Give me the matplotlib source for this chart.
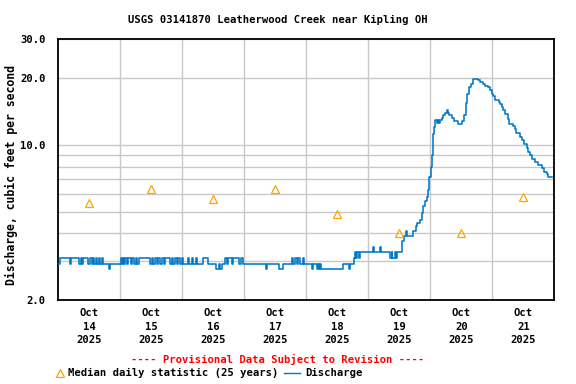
import numpy as np
import pandas as pd
import matplotlib
matplotlib.use("Agg")
import matplotlib.pyplot as plt
from matplotlib.lines import Line2D
from matplotlib.ticker import FixedLocator, NullFormatter, FixedFormatter

plt.rcParams["font.family"] = "DejaVu Sans Mono"
plt.rcParams["font.weight"] = "bold"

START = pd.Timestamp("2025-10-14 00:00")
TITLE = "USGS 03141870 Leatherwood Creek near Kipling OH"

# discharge, step change points: (hours since Oct 14 00:00, cfs)
discharge_steps = [
    (0.0, 2.9), (0.5, 3.08), (4.5, 2.9), (5.0, 3.08), (8.1, 2.9), (8.6, 3.08),
    (9.0, 2.9), (9.5, 3.08), (11.6, 2.9), (12.3, 3.08), (12.9, 2.9), (13.6, 3.08),
    (14.0, 2.9), (14.6, 3.08), (15.1, 2.9), (15.8, 3.08), (16.1, 2.9), (16.8, 3.08),
    (17.4, 2.9), (19.6, 2.75), (20.0, 2.9), (24.3, 3.08), (24.8, 2.9), (25.2, 3.08),
    (25.6, 2.9), (25.9, 3.08), (26.7, 2.9), (27.1, 3.08), (28.0, 2.9), (28.5, 3.08),
    (29.3, 2.9), (30.1, 3.08), (30.6, 2.9), (31.1, 3.08), (35.5, 2.9), (36.3, 3.08),
    (36.8, 2.9), (37.4, 3.08), (38.1, 2.9), (38.7, 3.08), (39.4, 2.9), (40.0, 3.08),
    (40.9, 2.9), (41.4, 3.08), (43.2, 2.9), (43.9, 3.08), (44.5, 2.9), (45.2, 3.08),
    (45.8, 2.9), (46.5, 3.08), (47.1, 2.9), (47.9, 3.08), (48.4, 2.9), (50.1, 3.08),
    (50.5, 2.9), (51.6, 3.08), (52.0, 2.9), (53.2, 3.08), (53.6, 2.9), (56.2, 3.08),
    (58.1, 2.9), (61.1, 2.75), (62.1, 2.9), (62.6, 2.75), (63.2, 2.9), (64.5, 3.08),
    (65.2, 2.9), (65.8, 3.08), (67.1, 2.9), (67.8, 3.08), (70.1, 2.9), (70.7, 3.08),
    (71.6, 2.9), (80.4, 2.75), (80.9, 2.9), (85.6, 2.75), (87.1, 2.9), (90.3, 3.08),
    (91.0, 2.9), (91.6, 3.08), (92.3, 2.9), (92.9, 3.08), (93.6, 2.9), (94.9, 3.08),
    (95.1, 2.9), (98.1, 2.75), (98.7, 2.9), (100.0, 2.75), (100.4, 2.9), (100.9, 2.75),
    (101.3, 2.9), (101.7, 2.75), (110.3, 2.9), (112.4, 2.75), (112.8, 2.9), (114.6, 3.08),
    (115.0, 3.28), (115.2, 3.08), (115.8, 3.28), (116.4, 3.08), (116.8, 3.28), (121.7, 3.46),
    (122.1, 3.28), (124.5, 3.46), (124.9, 3.28), (128.4, 3.08), (129.1, 3.28), (129.3, 3.08),
    (130.3, 3.28), (130.6, 3.08), (131.3, 3.28), (132.9, 3.69), (133.8, 3.9), (134.6, 4.09),
    (134.9, 3.9), (137.45, 4.09), (138.35, 4.3), (139.0, 4.46), (140.03, 4.6), (140.67, 4.94),
    (141.32, 5.3), (141.96, 5.6), (142.61, 5.84), (143.25, 6.3), (143.64, 7.2), (144.16, 7.97),
    (144.54, 9.0), (144.93, 9.8), (145.19, 11.27), (145.58, 12.07), (145.96, 12.94),
    (146.48, 12.58), (146.9, 12.94), (147.3, 12.58), (147.77, 12.94), (148.42, 13.3),
    (149.06, 13.6), (149.83, 14.0), (150.6, 14.4), (151.0, 14.0), (151.25, 13.6),
    (152.29, 13.2), (153.19, 12.8), (154.87, 12.5), (156.42, 12.9), (157.06, 13.6),
    (157.71, 15.4), (158.35, 17.06), (158.87, 18.27), (159.64, 18.9), (160.42, 19.24),
    (160.68, 19.94), (162.6, 19.6), (163.3, 19.24), (164.5, 18.9), (165.2, 18.5),
    (166.2, 18.2), (167.1, 17.66), (167.8, 17.06), (168.4, 16.6), (169.1, 15.9),
    (170.4, 15.6), (171.0, 15.38), (171.7, 14.85), (172.3, 14.35), (172.9, 13.87),
    (174.2, 13.16), (174.5, 12.5), (176.2, 12.16), (176.8, 11.87), (177.1, 11.34),
    (178.75, 10.88), (179.4, 10.51), (180.4, 10.16), (181.3, 9.65), (182.0, 9.31),
    (182.6, 9.0), (183.3, 8.69), (184.6, 8.4), (185.8, 8.11), (187.1, 7.84),
    (188.2, 7.57), (189.1, 7.39), (189.7, 7.19), (191.0, 7.19),
]

# median daily statistic, plotted at noon
median_days = ["2025-10-14", "2025-10-15", "2025-10-16", "2025-10-17",
               "2025-10-18", "2025-10-19", "2025-10-20", "2025-10-21"]
median_vals = [5.5, 6.36, 5.73, 6.36, 4.9, 4.03, 4.03, 5.84]

y_major = [2, 10, 20, 30]
y_major_labels = ["2.0", "10.0", "20.0", "30.0"]
y_minor = [3, 4, 5, 6, 7, 8, 9]

BLUE = "#0078c8"
ORANGE = "#ffa500"
GRID = "#c8c8c8"
FS = 7.6


def main():
    hrs = np.array([h for h, _ in discharge_steps])
    q = np.array([v for _, v in discharge_steps])
    t = START + pd.to_timedelta(hrs, unit="h")
    mt = pd.to_datetime(median_days) + pd.Timedelta(hours=12)

    fig = plt.figure(figsize=(5.76, 3.84), dpi=100)
    ax = fig.add_axes([58.3 / 576, 1 - 300 / 384, 496 / 576, 260.7 / 384])

    ax.plot(t, q, drawstyle="steps-post", color=BLUE, lw=1.15, zorder=3)
    ax.plot(mt, median_vals, ls="none", marker="^", ms=6.2, mfc="none",
            mec=ORANGE, mew=0.9, zorder=4)

    ax.set_yscale("log")
    ax.set_ylim(2, 30)
    ax.yaxis.set_major_locator(FixedLocator(y_major))
    ax.yaxis.set_major_formatter(FixedFormatter(y_major_labels))
    ax.yaxis.set_minor_locator(FixedLocator(y_minor))
    ax.yaxis.set_minor_formatter(NullFormatter())

    ax.set_xlim(START, START + pd.Timedelta(days=8))
    days = pd.date_range("2025-10-14", periods=8, freq="D")
    ax.set_xticks(days + pd.Timedelta(hours=12))
    ax.set_xticklabels([f"Oct\n{d.day}\n{d.year}" for d in days],
                       fontsize=FS, fontweight="bold", linespacing=1.4)
    ax.set_xticks(pd.date_range("2025-10-15", periods=7, freq="D"), minor=True)

    ax.grid(True, which="minor", axis="x", color=GRID, lw=1.0, zorder=0)
    ax.grid(True, which="both", axis="y", color=GRID, lw=1.0, zorder=0)
    ax.set_axisbelow(True)
    ax.tick_params(axis="both", which="both", length=0)
    ax.tick_params(axis="y", pad=9, labelsize=FS)
    ax.tick_params(axis="x", pad=6)
    for s in ax.spines.values():
        s.set_linewidth(1.3)
        s.set_color("black")

    ax.set_ylabel("Discharge, cubic feet per second", fontsize=8.3,
                  fontweight="bold")
    ax.yaxis.set_label_coords(-0.081, 0.48)

    fig.text(277.5 / 576, 1 - 20 / 384, TITLE, ha="center", va="center",
             fontsize=FS, fontweight="bold")
    fig.text(277.5 / 576, 1 - 359 / 384,
             "---- Provisional Data Subject to Revision ----",
             ha="center", va="center", color="red", fontsize=FS,
             fontweight="bold")

    # legend row
    ly = 1 - 372.5 / 384
    fig.add_artist(Line2D([60 / 576], [ly], transform=fig.transFigure,
                          ls="none", marker="^", ms=6.2, mfc="none",
                          mec=ORANGE, mew=0.9))
    fig.text(67.5 / 576, ly, "Median daily statistic (25 years)",
             ha="left", va="center", fontsize=FS, fontweight="bold")
    fig.add_artist(Line2D([284 / 576, 300 / 576], [ly, ly],
                          transform=fig.transFigure, color=BLUE, lw=1.0))
    fig.text(305 / 576, ly, "Discharge", ha="left", va="center",
             fontsize=FS, fontweight="bold")

    fig.savefig("out.png", dpi=100)
    plt.close(fig)


if __name__ == "__main__":
    main()
